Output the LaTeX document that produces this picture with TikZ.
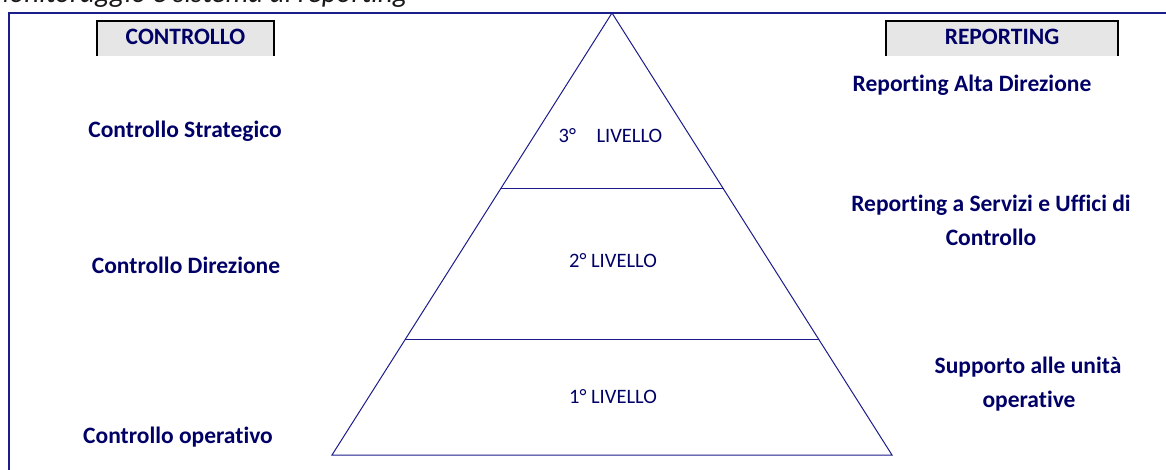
\documentclass[tikz,border=0pt]{standalone}
\usepackage{fontspec}
\setmainfont{Carlito}[RawFeature={-liga}]
\definecolor{txt}{RGB}{0,0,102}
\definecolor{ln}{RGB}{28,28,140}
\definecolor{hdrfill}{RGB}{230,230,230}
\begin{document}
\begin{tikzpicture}[x=1pt,y=-1pt,
  lbl/.style={font=\fontsize{23.5}{28}\selectfont\bfseries, text=txt, inner sep=0pt, anchor=base},
  lvl/.style={font=\fontsize{20.5}{24}\selectfont, text=txt, inner sep=0pt, anchor=base},
  hdrbox/.style={fill=hdrfill, draw=none},
  hdredge/.style={draw=black, line width=2.4pt},
  frame/.style={draw=ln, line width=2pt},
  pyr/.style={draw=ln, line width=1pt, line join=miter}]
\useasboundingbox (0,0) rectangle (1166,470);
\clip (0,0) rectangle (1166,470);
% title (cut off at top, as in the reference)
\node[font=\fontsize{29}{34}\selectfont\itshape, text=black!90, inner sep=0pt, anchor=base east] (title) at (408,3) {Monitoraggio e sistema di reporting};
% frame
\draw[frame] (9,480) -- (9,13) -- (1180,13);
% header boxes
\fill[hdrbox] (97,21) rectangle (274,56);
\draw[hdredge] (97,56) -- (97,21) -- (274,21) -- (274,56);
\node[lbl] (hctrl) at (185.5,44.5) {CONTROLLO};
\fill[hdrbox] (886,21) rectangle (1118,56);
\draw[hdredge] (886,56) -- (886,21) -- (1118,21) -- (1118,56);
\node[lbl] (hrep) at (1002,44.5) {REPORTING};
% pyramid
\coordinate (apex) at (612,13);
\coordinate (bl) at (332,455);
\coordinate (br) at (892,455);
\coordinate (l1) at (500.5,189);
\coordinate (r1) at (723.5,189);
\coordinate (l2) at (405,339);
\coordinate (r2) at (819,339);
\draw[pyr] (apex) -- (bl) -- (br) -- cycle;
\draw[pyr] (l1) -- (r1);
\draw[pyr] (l2) -- (r2);
% level texts
\node[lvl] (lv3) at (610.5,143) {3°\quad LIVELLO};
\node[lvl] (lv2) at (613,267) {2° LIVELLO};
\node[lvl] (lv1) at (613,403) {1° LIVELLO};
% left labels
\node[lbl] (cs) at (185,138) {Controllo Strategico};
\node[lbl] (cd) at (186,273) {Controllo Direzione};
\node[lbl] (co) at (178,443) {Controllo operativo};
% right labels
\node[lbl] (rad) at (972,92) {Reporting Alta Direzione};
\node[lbl] (rsa) at (991,212) {Reporting a Servizi e Uffici di};
\node[lbl] (rsb) at (991,245) {Controllo};
\node[lbl] (sua) at (1028,373) {Supporto alle unità};
\node[lbl] (sub) at (1029,407) {operative};
\end{tikzpicture}
\end{document}
